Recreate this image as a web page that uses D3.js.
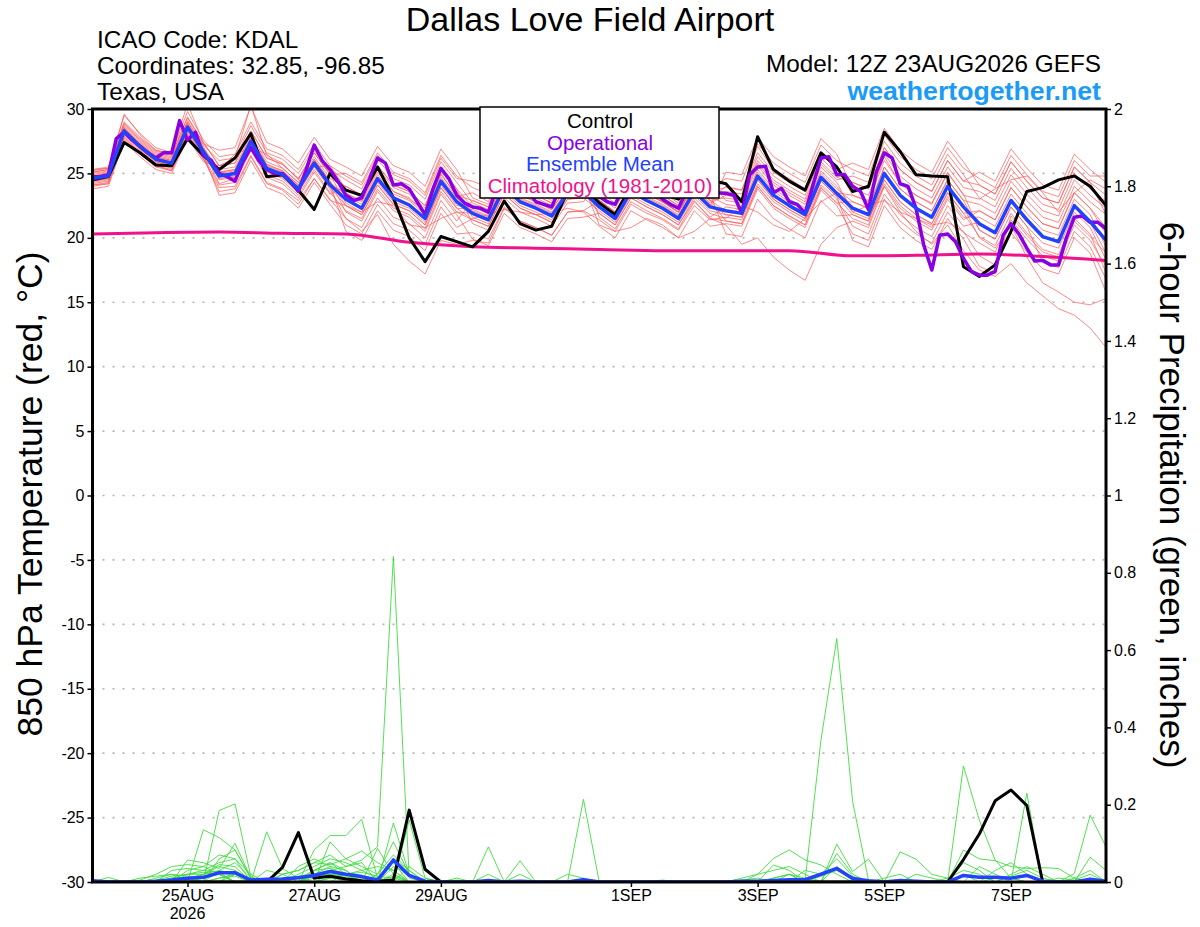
<!DOCTYPE html>
<html><head><meta charset="utf-8">
<script src="https://cdn.jsdelivr.net/npm/d3@7"></script>
<style>
body{margin:0;background:#fff}
svg{display:block}
text{font-family:"Liberation Sans",Arial,Helvetica,sans-serif}
</style>
</head><body>
<svg id="chart" width="1200" height="927"></svg>
<script>
// ---------------- DATA ----------------
const runStart = "2026-08-23T12:00:00Z";
const runEnd = "2026-09-08T12:00:00Z";
const stepHours = 6;       // ensemble / control / mean
const opStepHours = 3;     // operational run
const climStepHours = 24;  // climatology

const tempTicks = [-30,-25,-20,-15,-10,-5,0,5,10,15,20,25,30];
const tempTickLabels = ["-30","-25","-20","-15","-10","-5","0","5","10","15","20","25","30"];
const gridTemps = [-25,-20,-15,-10,-5,0,5,10,15,20,25];
const precipTicks = [0,0.2,0.4,0.6,0.8,1,1.2,1.4,1.6,1.8,2];
const precipTickLabels = ["0","0.2","0.4","0.6","0.8","1","1.2","1.4","1.6","1.8","2"];
const dateTicks = ["2026-08-25","2026-08-27","2026-08-29","2026-09-01","2026-09-03","2026-09-05","2026-09-07"];
const dateTickLabels = ["25AUG","27AUG","29AUG","1SEP","3SEP","5SEP","7SEP"];

// 850 hPa temperature (C), 6-hourly
const controlTemp = [24.5,24.75,27.4,26.6,25.65,25.6,27.7,26.4,25.3,26.2,28.1,24.75,24.9,23.7,22.2,25.0,
 23.7,23.3,25.5,23.1,20.0,18.15,20.1,19.7,19.3,20.5,22.85,21.1,20.6,20.9,23.6,24.0,
 22.7,21.8,24.0,23.7,23.4,23.0,24.3,24.5,24.2,22.8,27.85,25.3,24.4,23.7,26.6,25.5,
 23.6,24.0,28.2,26.7,24.9,24.8,24.75,17.75,17.0,17.9,20.5,23.6,23.9,24.5,24.8,24.0,22.5];
const meanTemp = [24.6,24.8,28.3,27.1,26.1,25.8,28.6,26.7,24.8,25.0,27.5,25.4,24.9,23.8,25.8,24.1,
 23.0,22.3,24.6,23.1,22.55,21.5,24.4,22.8,21.9,21.4,23.9,22.8,22.3,21.7,23.5,23.6,
 22.4,21.5,23.6,22.9,22.3,21.5,23.6,22.4,22.1,21.9,24.8,23.3,22.5,21.8,24.7,23.45,
 22.3,21.8,25.0,23.3,22.3,21.6,24.0,22.4,21.1,20.4,22.9,21.4,20.1,19.7,22.5,21.25,19.8];
// operational, 3-hourly
const operationalTemp = [24.75,24.75,24.9,27.7,28.2,27.6,27.1,26.6,26.2,26.6,26.6,29.1,27.6,28.2,26.4,26.0,
 25.0,24.75,24.4,25.9,27.0,26.0,25.3,25.0,25.0,24.4,23.6,25.3,27.2,26.0,25.3,24.4,
 23.3,22.9,23.1,24.6,26.2,25.8,24.1,24.2,23.8,22.8,21.8,23.8,25.4,24.6,23.3,22.7,
 22.4,22.3,22.0,23.8,25.0,24.6,24.0,23.6,22.8,22.6,22.4,23.8,24.8,24.5,24.0,23.6,
 23.2,22.8,22.6,23.8,24.8,24.5,24.0,23.5,23.0,22.6,22.3,23.6,24.6,24.3,23.9,23.5,
 23.45,23.3,21.9,24.9,25.5,25.55,23.5,23.85,22.8,22.6,21.9,24.1,26.2,26.3,24.9,24.9,
 24.0,23.6,22.2,25.1,26.6,26.2,24.2,24.0,22.3,19.4,17.5,20.2,20.3,19.7,18.4,17.4,
 17.1,17.1,17.4,20.2,21.1,20.3,19.2,18.2,18.25,17.9,17.9,20.0,21.6,21.7,21.2,21.2,20.7];
// climatology 1981-2010, daily
const climTemp = [20.3,20.4,20.45,20.35,20.3,19.65,19.3,19.2,19.1,19.0,19.0,19.0,18.6,18.65,18.75,18.55,18.25];

// ensemble members, 6-hourly
const tempMember01 = [24.9,25.1,28.6,27.4,26.4,26.1,28.9,27.0,25.3,25.5,28.0,25.9,25.4,24.3,26.3,24.6,24.0,23.3,25.6,24.1,23.6,22.5,25.4,23.8,22.4,21.9,24.4,23.3,22.8,22.2,24.0,24.1,23.4,22.5,24.6,23.9,23.3,22.5,24.6,23.4,23.6,23.4,26.3,24.8,24.0,23.3,26.2,25.0,24.3,23.8,27.0,25.3,24.3,23.6,26.0,24.4,24.1,23.4,25.9,24.4,23.1,22.7,25.5,24.3,23.3];
const tempMember02 = [25.1,25.3,29.6,28.0,26.8,26.5,30.4,27.4,25.6,26.2,30.3,26.4,25.8,24.5,26.8,25.0,23.4,22.9,25.3,23.6,23.0,22.0,25.0,23.2,23.5,22.8,25.6,24.3,23.7,23.1,25.0,25.2,22.9,22.0,24.0,23.5,22.8,22.0,24.3,23.0,24.0,23.7,27.1,25.3,24.6,23.8,26.6,25.5,23.3,22.9,26.3,24.2,23.3,22.7,25.1,23.3,23.0,23.8,24.5,24.8,23.5,22.0,23.5,24.5,23.8];
const tempMember03 = [24.1,24.2,27.6,26.5,25.6,25.2,27.9,26.1,23.9,24.0,26.4,24.3,23.8,22.9,24.6,23.0,21.5,20.5,21.8,19.5,18.2,17.2,19.8,19.5,19.8,19.6,22.3,21.3,20.8,20.2,22.0,22.1,21.4,20.5,22.6,21.9,21.4,20.6,22.5,21.4,21.6,21.4,24.2,22.8,22.0,21.3,24.1,23.0,20.9,20.3,23.4,21.8,20.8,20.1,22.5,20.9,21.2,20.3,22.8,21.6,20.0,19.8,22.6,21.2,18.8];
const tempMember04 = [24.5,24.9,28.1,27.2,26.0,25.9,28.3,26.8,24.2,24.6,27.0,24.9,24.4,23.3,25.3,23.5,22.1,21.5,23.8,22.3,21.8,20.7,23.6,22.0,21.9,21.5,23.8,22.9,22.3,21.6,23.6,23.5,21.9,21.0,23.1,22.4,21.8,21.0,22.9,21.5,21.0,19.5,20.0,18.5,17.5,16.7,19.5,20.8,21.3,20.8,24.0,22.3,21.3,20.6,23.0,21.4,22.1,21.4,23.9,22.4,21.1,20.7,23.5,22.3,20.3];
const tempMember05 = [24.8,25.0,28.5,27.3,26.3,26.0,28.8,26.9,24.8,25.0,27.5,25.4,24.9,23.8,25.8,24.1,23.5,22.8,25.1,23.6,23.1,22.0,24.9,23.3,22.9,22.4,24.9,23.8,23.3,22.7,24.5,24.6,22.9,22.0,24.1,23.4,22.8,22.0,24.1,22.9,22.1,21.9,24.8,23.3,22.5,21.8,24.7,23.5,22.0,21.5,24.0,22.0,20.5,19.5,21.0,19.0,17.5,17.0,18.0,16.5,15.5,14.5,14.0,13.0,11.5];
const tempMember06 = [24.3,24.5,28.0,26.8,25.8,25.5,28.3,26.4,25.1,25.3,27.8,25.7,25.2,24.1,26.1,24.4,22.5,21.8,24.1,22.6,22.1,21.0,23.9,22.3,21.4,20.9,23.4,22.3,21.8,21.2,23.0,23.1,23.2,22.3,24.4,23.7,23.1,22.3,24.4,23.2,22.6,22.4,25.3,23.8,23.0,22.3,25.2,24.0,22.3,21.8,25.0,23.3,22.3,21.6,24.0,22.4,20.0,19.2,21.0,18.5,16.5,15.8,15.0,14.8,15.3];
const tempMember07 = [25.1,25.3,28.8,27.6,26.6,26.3,29.1,27.2,26.0,26.2,28.7,26.6,26.1,25.0,27.0,25.3,24.5,23.8,26.1,24.6,24.1,23.0,25.9,24.3,22.7,22.2,24.7,23.6,23.1,22.5,24.3,24.4,23.9,23.0,25.1,24.4,23.8,23.0,25.1,23.9,24.6,24.4,27.3,25.8,25.0,24.3,27.2,26.0,25.3,24.8,28.0,26.3,25.3,24.6,27.0,25.4,24.6,23.9,26.4,24.9,23.6,23.2,26.0,24.8,24.8];
const tempMember08 = [24.4,24.6,28.1,26.9,25.9,25.6,28.4,26.5,23.3,23.5,26.0,23.9,23.4,22.3,24.3,22.6,21.0,20.3,22.6,21.1,20.6,19.5,22.4,20.8,21.5,21.8,22.2,22.0,21.8,21.9,22.3,22.0,20.9,20.0,22.1,21.4,20.8,20.0,22.1,20.9,21.1,20.9,23.8,22.3,21.5,20.8,23.7,22.5,20.3,19.8,23.0,21.3,20.3,19.6,22.0,20.4,19.6,18.9,21.4,19.9,18.6,18.2,21.0,19.8,17.8];
const tempMember09 = [25.3,25.5,29.0,27.8,26.8,26.5,29.3,27.4,25.6,25.8,28.3,26.2,25.7,24.6,26.6,24.9,25.0,24.3,26.6,25.1,24.6,23.5,26.4,24.8,23.9,23.4,25.9,24.8,24.3,23.7,25.5,25.6,22.9,22.0,24.1,23.4,22.8,22.0,24.1,22.9,23.1,22.9,25.8,24.3,23.5,22.8,25.7,24.5,24.8,24.3,27.5,25.8,24.8,24.1,26.5,24.9,23.1,22.4,24.9,23.4,22.1,21.7,24.5,23.3,22.3];
const tempMember10 = [24.0,24.2,27.7,26.5,25.5,25.2,28.0,26.1,25.1,25.3,27.8,25.7,25.2,24.1,26.1,24.4,22.0,21.3,23.6,22.1,21.6,20.5,23.4,21.8,19.9,19.4,21.9,20.8,20.3,19.7,21.5,21.6,21.9,21.0,23.1,22.4,21.8,21.0,23.1,21.9,21.5,22.5,22.0,21.0,20.5,21.5,22.8,23.5,23.3,22.8,26.0,24.3,23.3,22.6,25.0,23.4,20.6,19.9,22.4,20.9,18.1,17.7,20.5,19.3,16.8];
const tempMember11 = [24.7,24.9,28.4,27.2,26.2,25.9,28.7,26.8,25.0,25.2,27.7,25.6,25.1,24.0,26.0,24.3,23.3,22.6,24.9,23.4,22.9,21.8,24.7,23.1,22.1,21.6,24.1,23.0,22.5,21.9,23.7,23.8,22.6,21.7,23.8,23.1,22.5,21.7,23.8,22.6,21.8,21.6,24.5,23.0,22.2,21.5,24.4,23.2,21.8,21.3,24.5,22.8,21.8,21.1,23.5,21.9,22.1,21.4,23.9,22.4,21.1,20.7,23.5,22.3,20.8];
const tempMember12 = [24.2,24.4,27.9,26.7,25.7,25.4,28.2,26.3,24.1,24.3,26.8,24.7,24.2,23.1,25.1,23.4,24.0,23.3,25.6,24.1,23.6,22.5,25.4,23.8,21.1,20.6,23.1,22.0,21.5,20.9,22.7,22.8,24.4,23.5,25.6,24.9,24.3,23.5,25.6,24.4,22.9,22.7,25.6,24.1,23.3,22.6,25.5,24.3,22.0,22.5,22.9,22.0,21.5,21.0,21.2,20.5,18.6,17.9,20.4,18.9,17.6,17.2,20.0,18.8,15.8];
const tempMember13 = [25.0,25.2,28.7,27.5,26.5,26.2,29.0,27.1,24.5,24.7,27.2,25.1,24.6,23.5,25.5,23.8,21.5,20.8,23.1,21.6,21.1,20.0,22.9,21.3,22.9,22.4,24.9,23.8,23.3,22.7,24.5,24.6,22.4,21.5,23.6,22.9,22.3,21.5,23.6,22.4,25.1,24.9,27.8,26.3,25.5,24.8,27.7,26.5,23.8,23.3,26.5,24.8,23.8,23.1,25.5,23.9,23.6,22.9,25.4,23.9,22.6,22.2,25.0,23.8,22.8];
const tempMember14 = [23.8,24.0,27.5,26.3,25.3,25.0,27.8,25.9,25.6,25.8,28.3,26.2,25.7,24.6,26.6,24.9,22.7,22.0,24.3,22.8,22.3,21.2,24.1,22.5,22.4,21.9,24.4,23.3,22.8,22.2,24.0,24.1,21.0,20.5,20.8,21.5,21.0,20.0,20.5,21.5,21.3,21.1,24.0,22.5,21.7,21.0,23.9,22.7,22.8,22.3,25.5,23.8,22.8,22.1,24.5,22.9,22.6,21.9,24.4,22.9,21.6,21.2,24.0,22.8,21.8];
const tempMember15 = [25.3,25.4,29.5,28.1,27.0,26.6,29.8,27.6,26.3,26.5,29.0,26.9,26.4,25.3,27.3,25.6,23.8,23.1,25.4,23.9,23.4,22.3,25.2,23.6,21.6,21.1,23.6,22.5,22.0,21.4,23.2,23.3,23.4,22.5,24.6,23.9,23.3,22.5,24.6,23.4,20.3,20.1,23.0,21.5,20.7,20.0,22.9,21.7,21.8,21.3,24.5,22.8,21.8,21.1,23.5,21.9,20.1,19.4,21.9,20.4,19.1,18.7,21.5,20.3,17.3];
const tempMember16 = [24.4,24.6,28.1,26.9,25.9,25.6,28.4,26.5,24.6,24.8,27.3,25.2,24.7,23.6,25.6,23.9,22.5,21.8,24.1,22.6,22.1,21.0,23.9,22.3,22.2,21.7,24.2,23.1,22.6,22.0,23.8,23.9,22.7,21.8,23.9,23.2,22.6,21.8,23.9,22.7,23.3,23.1,26.0,24.5,23.7,23.0,25.9,24.7,24.3,23.8,27.0,25.3,24.3,23.6,26.0,24.4,25.1,24.4,26.9,25.4,24.1,23.7,26.5,25.3,24.3];
const tempMember17 = [25.2,25.4,28.9,27.7,26.7,26.4,29.4,27.3,26.8,27.0,30.2,27.4,26.9,25.8,27.8,26.1,25.5,24.8,27.1,25.6,25.1,24.0,26.9,25.3,23.1,22.6,25.1,24.0,23.5,22.9,24.7,24.8,21.6,20.7,22.8,22.1,21.5,20.7,22.8,21.6,22.4,22.2,25.1,23.6,22.8,22.1,25.0,23.8,22.8,22.3,25.5,23.8,22.8,22.1,24.5,22.9,20.6,19.9,22.4,20.9,19.6,19.2,22.0,20.8,18.3];
const tempMember18 = [24.1,24.3,27.8,26.6,25.6,25.3,28.1,26.2,23.6,23.8,26.3,24.2,23.7,22.6,24.6,22.9,22.5,22.0,22.8,22.5,21.0,20.8,21.5,22.0,21.4,20.9,23.4,22.3,21.8,21.2,23.0,23.1,22.1,21.2,23.3,22.6,22.0,21.2,23.3,22.1,21.8,21.6,24.5,23.0,22.2,21.5,24.4,23.2,19.8,19.3,22.5,20.8,19.8,19.1,21.5,19.9,17.8,17.2,21.7,20.2,18.9,18.5,21.3,20.1,18.8];
const tempMember19 = [24.8,25.0,28.5,27.3,26.3,26.0,28.8,26.9,25.3,26.5,27.0,26.5,25.4,24.3,25.5,25.6,24.8,24.1,26.4,24.9,24.4,23.3,26.2,24.6,24.4,23.9,26.4,25.3,24.8,24.2,26.0,26.1,23.6,22.7,24.8,24.1,23.5,22.7,24.8,23.6,23.9,23.7,26.6,25.1,24.3,23.6,26.5,25.3,25.8,25.3,28.5,26.8,25.8,25.1,27.5,25.9,24.1,23.4,25.9,24.4,23.1,22.7,25.5,24.3,21.8];
const tempMember20 = [24.5,24.7,28.2,27.0,26.0,25.7,28.5,26.6,24.9,25.1,27.6,25.5,25.0,23.9,25.9,24.2,20.5,19.8,22.1,20.6,20.1,19.0,21.9,20.3,20.4,19.9,22.4,21.3,20.8,20.2,22.0,22.1,22.9,22.0,24.1,23.4,22.8,22.0,24.1,22.9,21.3,21.1,24.0,22.5,21.7,21.0,23.9,22.7,21.5,21.0,24.2,22.5,21.5,20.8,23.2,21.6,21.6,20.9,23.4,21.9,20.6,20.2,23.0,21.8,19.3];
const tempMembers = [tempMember01,tempMember02,tempMember03,tempMember04,tempMember05,tempMember06,tempMember07,tempMember08,tempMember09,tempMember10,
  tempMember11,tempMember12,tempMember13,tempMember14,tempMember15,tempMember16,tempMember17,tempMember18,tempMember19,tempMember20];

// 6-hour precipitation (inches)
const controlPrecip = [0,0,0,0,0,0,0,0,0,0,0,0,0.038,0.128,0.01,0.015,0.008,0.003,0.002,0.005,0.186,0.033,0,0,0,0,0,0,0,0,0,0,0,0,0,0,0,0,0,0,0,0,0,0,0,0,0,0,0,0,0,0,0,0,0,0.058,0.124,0.21,0.238,0.198,0,0,0,0,0];
const meanPrecip = [0.003,0,0,0,0.002,0.005,0.01,0.012,0.024,0.024,0.005,0.007,0.008,0.011,0.017,0.027,0.02,0.014,0.005,0.057,0.017,0.002,0,0,0,0.004,0,0.002,0,0,0,0.006,0,0,0,0,0,0,0,0,0,0.002,0.002,0.004,0.006,0.006,0.02,0.035,0.009,0.003,0,0.004,0.002,0,0,0.017,0.012,0.012,0.01,0.017,0.002,0,0,0.007,0.002];
const precipMember01 = [0,0,0,0,0,0.01,0.02,0.02,0.03,0.02,0,0,0,0.01,0.02,0.03,0.04,0.057,0.091,0.842,0.01,0,0,0,0,0,0,0,0,0,0,0,0,0,0,0,0,0,0,0,0,0,0,0.01,0.02,0,0,0,0,0,0,0,0,0,0,0,0,0,0,0,0,0,0,0,0];
const precipMember02 = [0,0,0,0,0,0,0,0.135,0.115,0.083,0.01,0,0,0,0.03,0.05,0.03,0,0,0.153,0.02,0,0,0,0,0,0,0,0,0,0,0,0,0,0,0,0,0,0,0,0,0,0,0,0,0,0,0,0,0,0,0,0,0,0,0.30,0.16,0.057,0.01,0,0,0,0,0,0];
const precipMember03 = [0,0,0,0,0,0,0,0,0.185,0.202,0.014,0,0,0,0.02,0.04,0,0,0,0,0.16,0.01,0,0,0,0,0,0,0,0,0,0.214,0,0,0,0,0,0,0,0,0,0,0,0,0,0,0,0,0,0,0,0,0,0,0,0,0,0,0,0.23,0,0,0,0,0];
const precipMember04 = [0,0,0,0.005,0.02,0.04,0.045,0.04,0.02,0,0,0.13,0.035,0.01,0,0,0,0,0,0,0,0,0,0,0,0,0,0,0,0,0,0,0,0,0,0,0,0,0,0,0,0,0,0,0,0.005,0.367,0.63,0.208,0.005,0,0,0,0,0,0,0,0,0,0,0,0,0,0,0];
const precipMember05 = [0,0,0,0,0,0,0.057,0.05,0.035,0.10,0.01,0,0,0,0.083,0.12,0.12,0.162,0.01,0,0,0,0,0,0,0.091,0,0,0,0,0,0,0,0,0,0,0,0,0,0,0,0,0,0,0,0,0,0,0,0,0,0,0,0,0,0,0,0,0,0,0,0,0,0,0];
const precipMember06 = [0,0.012,0,0,0.01,0.02,0,0,0.06,0.083,0.01,0,0,0,0,0.104,0.06,0.04,0.02,0.104,0.02,0,0,0,0,0,0,0.055,0,0,0,0,0,0,0,0,0,0,0,0,0,0,0.02,0.061,0.083,0.057,0.044,0.02,0,0,0,0,0,0,0,0,0,0,0,0,0,0,0,0,0];
const precipMember07 = [0,0,0,0,0,0,0.03,0.04,0.07,0.06,0,0,0,0.04,0.06,0.04,0.03,0,0.087,0.02,0,0,0,0,0,0,0,0,0,0,0,0,0,0,0,0,0,0,0,0,0,0,0,0,0,0,0,0.098,0.027,0.059,0,0.078,0.059,0.02,0.01,0,0,0,0,0,0,0,0,0,0];
const precipMember08 = [0,0,0,0,0,0.03,0.035,0.03,0.05,0.06,0.02,0,0.02,0.03,0.05,0.07,0.04,0.05,0,0.05,0,0,0,0.01,0,0,0,0,0,0,0,0,0,0,0,0,0,0,0,0,0,0,0,0.044,0.03,0,0,0,0,0,0,0,0,0,0,0.083,0.06,0.055,0.04,0.035,0.037,0.035,0.01,0,0];
const precipMember09 = [0,0,0,0,0,0,0,0.02,0.045,0.04,0,0,0,0,0.02,0.03,0.02,0,0,0.06,0.03,0,0,0,0,0,0,0,0,0,0,0,0,0,0,0,0,0,0,0,0,0,0,0,0,0,0,0.074,0.02,0,0,0,0,0,0,0,0,0,0,0,0,0,0.022,0.173,0.091];
const precipMember10 = [0,0,0,0,0,0,0,0,0,0.02,0,0,0,0.02,0.04,0.06,0.05,0.03,0.01,0,0,0,0,0,0,0.02,0,0.02,0,0,0.02,0.01,0,0,0,0,0,0,0,0,0,0,0,0,0,0,0,0,0,0,0,0,0,0,0,0.05,0.03,0,0,0,0,0,0,0.064,0.03];
const precipMember11 = [0,0,0,0,0.005,0.015,0.02,0.025,0.02,0,0,0,0,0,0,0,0.02,0.03,0.04,0.03,0,0,0,0,0,0,0,0,0,0,0,0,0,0,0,0,0,0,0,0,0,0.01,0.02,0.03,0.04,0.02,0,0,0,0,0,0,0,0,0,0,0,0.03,0.05,0.02,0,0,0,0,0];
const precipMember12 = [0,0,0,0,0,0,0.01,0.02,0.04,0.03,0,0,0,0,0.01,0.02,0.015,0,0,0.04,0.02,0,0,0,0,0,0,0,0,0,0,0,0,0,0,0,0,0,0,0,0,0,0,0,0,0,0,0,0,0,0,0,0,0,0.01,0.03,0.02,0,0.02,0.04,0.02,0,0,0,0];
const precipMember13 = [0,0,0,0,0,0,0,0,0,0,0,0,0.02,0.03,0.05,0.045,0.06,0.08,0.05,0.03,0,0,0,0,0,0,0,0,0,0,0,0,0,0,0,0,0,0,0,0,0,0,0,0,0,0,0,0,0,0,0,0,0.02,0.01,0,0,0,0,0,0,0,0,0.01,0.03,0];
const precipMember14 = [0,0,0,0.01,0.015,0.02,0.015,0,0.01,0.02,0,0.03,0.02,0,0,0.02,0.01,0,0,0.02,0,0,0,0.005,0,0,0,0,0,0,0,0,0,0,0,0,0,0,0,0,0,0,0,0,0,0.03,0.02,0.06,0.015,0,0,0,0,0,0,0,0,0,0,0,0,0,0,0,0];
const precipMember15 = [0,0,0,0,0,0,0,0,0.03,0.05,0.01,0,0,0,0.03,0.05,0.02,0,0,0,0.04,0.01,0,0,0,0,0,0,0,0,0,0,0,0,0,0,0,0,0,0,0,0,0,0,0.02,0.01,0,0,0,0,0,0,0,0,0,0,0.04,0.02,0,0,0,0,0,0,0];
const precipMember16 = [0,0,0,0,0,0,0,0.01,0.02,0,0,0,0,0.01,0.03,0.035,0.02,0,0.02,0.07,0.03,0,0,0,0,0,0,0,0,0,0,0,0,0,0,0,0,0,0,0,0,0,0,0,0,0,0,0,0,0,0.01,0.02,0,0,0,0,0,0,0,0,0,0,0,0,0];
const precipMember17 = [0,0,0,0,0,0,0,0,0,0.03,0.005,0,0,0,0,0.01,0.02,0.025,0.015,0.01,0,0,0,0,0,0,0,0,0,0,0,0,0,0,0,0,0,0,0,0,0,0,0,0,0,0,0,0,0,0,0,0,0,0,0,0.02,0,0,0.015,0.03,0.01,0,0,0,0];
const precipMember18 = [0,0,0,0,0,0,0.02,0.03,0.025,0,0,0,0.01,0.015,0.02,0.015,0,0,0,0,0,0,0,0,0,0,0,0,0,0,0,0,0,0,0,0,0,0,0,0,0,0,0,0.01,0.02,0,0,0.04,0.01,0,0,0,0,0,0,0,0,0,0,0,0,0,0,0,0];
const precipMember19 = [0,0,0,0,0,0,0,0,0.01,0.015,0,0,0,0,0.015,0.02,0.01,0,0,0.015,0,0,0,0,0,0,0,0,0,0,0,0,0,0,0,0,0.005,0,0,0,0,0.005,0.01,0,0,0,0,0,0,0,0,0,0,0,0,0,0,0.01,0.01,0,0,0,0,0,0];
const precipMember20 = [0,0,0,0,0,0.01,0.01,0,0,0,0,0,0,0,0,0.01,0.01,0.01,0.005,0,0,0,0,0,0,0,0,0,0,0,0,0,0,0,0,0,0,0,0,0,0,0,0,0,0,0,0.015,0.03,0.01,0,0,0,0,0,0,0,0,0,0,0,0,0.01,0.005,0.02,0];
const precipMembers = [precipMember01,precipMember02,precipMember03,precipMember04,precipMember05,precipMember06,precipMember07,precipMember08,precipMember09,precipMember10,
  precipMember11,precipMember12,precipMember13,precipMember14,precipMember15,precipMember16,precipMember17,precipMember18,precipMember19,precipMember20];

// ---------------- CHART ----------------
const W = 1200, H = 927;
const plot = {left: 92.5, right: 1106, top: 109, bottom: 882};
const colors = {
  member: "#ff5a5a", precip: "#3fdc3f", control: "#000000",
  operational: "#8a00e4", mean: "#2242ff", clim: "#f0128c", site: "#1c9bf6", grid: "#b4b4b4"
};

const t0 = new Date(runStart), t1 = new Date(runEnd);
const timeAt = (i, h) => new Date(t0.getTime() + i * h * 3600e3);

const x = d3.scaleUtc().domain([t0, t1]).range([plot.left, plot.right]);
const yT = d3.scaleLinear().domain([-30, 30]).range([plot.bottom, plot.top]);
const yP = d3.scaleLinear().domain([0, 2]).range([plot.bottom, plot.top]);

const svg = d3.select("#chart");
svg.append("rect").attr("width", W).attr("height", H).attr("fill", "#fff");

svg.append("defs").append("clipPath").attr("id", "plotclip")
  .append("rect").attr("x", plot.left).attr("y", plot.top)
  .attr("width", plot.right - plot.left).attr("height", plot.bottom - plot.top);

// grid
svg.append("g").selectAll("line").data(gridTemps).join("line")
  .attr("x1", plot.left).attr("x2", plot.right)
  .attr("y1", d => yT(d)).attr("y2", d => yT(d))
  .attr("stroke", colors.grid).attr("stroke-width", 1.6)
  .attr("stroke-dasharray", "2,8");

const g = svg.append("g").attr("clip-path", "url(#plotclip)");

const lineT = (h) => d3.line().x((d, i) => x(timeAt(i, h))).y(d => yT(d));
const lineP = d3.line().x((d, i) => x(timeAt(i, stepHours))).y(d => yP(d));

g.append("g").selectAll("path").data(tempMembers).join("path")
  .attr("d", lineT(stepHours)).attr("fill", "none")
  .attr("stroke", colors.member).attr("stroke-width", 0.8).attr("stroke-opacity", 0.9);

g.append("g").selectAll("path").data(precipMembers).join("path")
  .attr("d", lineP).attr("fill", "none")
  .attr("stroke", colors.precip).attr("stroke-width", 0.9);

g.append("path").datum(climTemp).attr("d", lineT(climStepHours).curve(d3.curveMonotoneX))
  .attr("fill", "none").attr("stroke", colors.clim).attr("stroke-width", 3);

g.append("path").datum(controlTemp).attr("d", lineT(stepHours))
  .attr("fill", "none").attr("stroke", colors.control).attr("stroke-width", 3).attr("stroke-linejoin", "round");
g.append("path").datum(operationalTemp).attr("d", lineT(opStepHours))
  .attr("fill", "none").attr("stroke", colors.operational).attr("stroke-width", 3.5).attr("stroke-linejoin", "round");
g.append("path").datum(meanTemp).attr("d", lineT(stepHours))
  .attr("fill", "none").attr("stroke", colors.mean).attr("stroke-width", 3.5).attr("stroke-linejoin", "round");

g.append("path").datum(controlPrecip).attr("d", lineP)
  .attr("fill", "none").attr("stroke", colors.control).attr("stroke-width", 3).attr("stroke-linejoin", "round");
g.append("path").datum(meanPrecip).attr("d", lineP)
  .attr("fill", "none").attr("stroke", colors.mean).attr("stroke-width", 3.5).attr("stroke-linejoin", "round");

// axes
const fontTick = 16;
const axL = svg.append("g").attr("transform", `translate(${plot.left},0)`)
  .call(d3.axisLeft(yT).tickValues(tempTicks).tickFormat((d, i) => tempTickLabels[i]).tickSize(5).tickSizeOuter(0).tickPadding(3));
const axR = svg.append("g").attr("transform", `translate(${plot.right},0)`)
  .call(d3.axisRight(yP).tickValues(precipTicks).tickFormat((d, i) => precipTickLabels[i]).tickSize(5).tickSizeOuter(0).tickPadding(3));
const axB = svg.append("g").attr("transform", `translate(0,${plot.bottom})`)
  .call(d3.axisBottom(x).tickValues(dateTicks.map(s => new Date(s + "T00:00:00Z"))).tickFormat((d, i) => dateTickLabels[i]).tickSize(5).tickSizeOuter(0).tickPadding(3));
[axL, axR, axB].forEach(a => {
  a.select(".domain").remove();
  a.selectAll(".tick line").attr("stroke", "#000").attr("stroke-width", 1.5);
  a.selectAll(".tick text").attr("font-size", fontTick).attr("fill", "#000")
    .style("font-family", '"Liberation Sans", Arial, sans-serif');
});
svg.append("text").attr("x", x(new Date(dateTicks[0] + "T00:00:00Z"))).attr("y", 919)
  .attr("text-anchor", "middle").attr("font-size", fontTick).text("2026");

// frame
svg.append("rect").attr("x", plot.left).attr("y", plot.top)
  .attr("width", plot.right - plot.left).attr("height", plot.bottom - plot.top)
  .attr("fill", "none").attr("stroke", "#000").attr("stroke-width", 3);

// legend
const leg = svg.append("g");
leg.append("rect").attr("x", 480).attr("y", 107).attr("width", 239).attr("height", 91)
  .attr("fill", "#fff").attr("stroke", "#000").attr("stroke-width", 1.5);
const legendItems = [
  {t: "Control", c: colors.control}, {t: "Operational", c: colors.operational},
  {t: "Ensemble Mean", c: colors.mean}, {t: "Climatology (1981-2010)", c: colors.clim}];
leg.selectAll("text.l").data(legendItems).join("text").attr("class", "l")
  .attr("x", 600).attr("y", (d, i) => 128 + i * 21.5).attr("text-anchor", "middle")
  .attr("font-size", 20.5).attr("fill", d => d.c).text(d => d.t);

// titles
svg.append("text").attr("x", 590).attr("y", 31).attr("text-anchor", "middle")
  .attr("font-size", 34).text("Dallas Love Field Airport");
const hdr = [["ICAO Code: KDAL", 48], ["Coordinates: 32.85, -96.85", 74], ["Texas, USA", 100]];
svg.selectAll("text.h").data(hdr).join("text").attr("class", "h")
  .attr("x", 97).attr("y", d => d[1]).attr("font-size", 24.3).text(d => d[0]);
svg.append("text").attr("x", 1101).attr("y", 72).attr("text-anchor", "end")
  .attr("font-size", 24.3).text("Model: 12Z 23AUG2026 GEFS");
svg.append("text").attr("x", 1101).attr("y", 99.5).attr("text-anchor", "end")
  .attr("font-size", 26.7).attr("font-weight", "bold").attr("fill", colors.site).text("weathertogether.net");

svg.append("text").attr("transform", "translate(42,494) rotate(-90)").attr("text-anchor", "middle")
  .attr("font-size", 35.5).text("850 hPa Temperature (red, °C)");
svg.append("text").attr("transform", "translate(1160,495) rotate(90)").attr("text-anchor", "middle")
  .attr("font-size", 35).text("6-hour Precipitation (green, inches)");
</script>
</body></html>
